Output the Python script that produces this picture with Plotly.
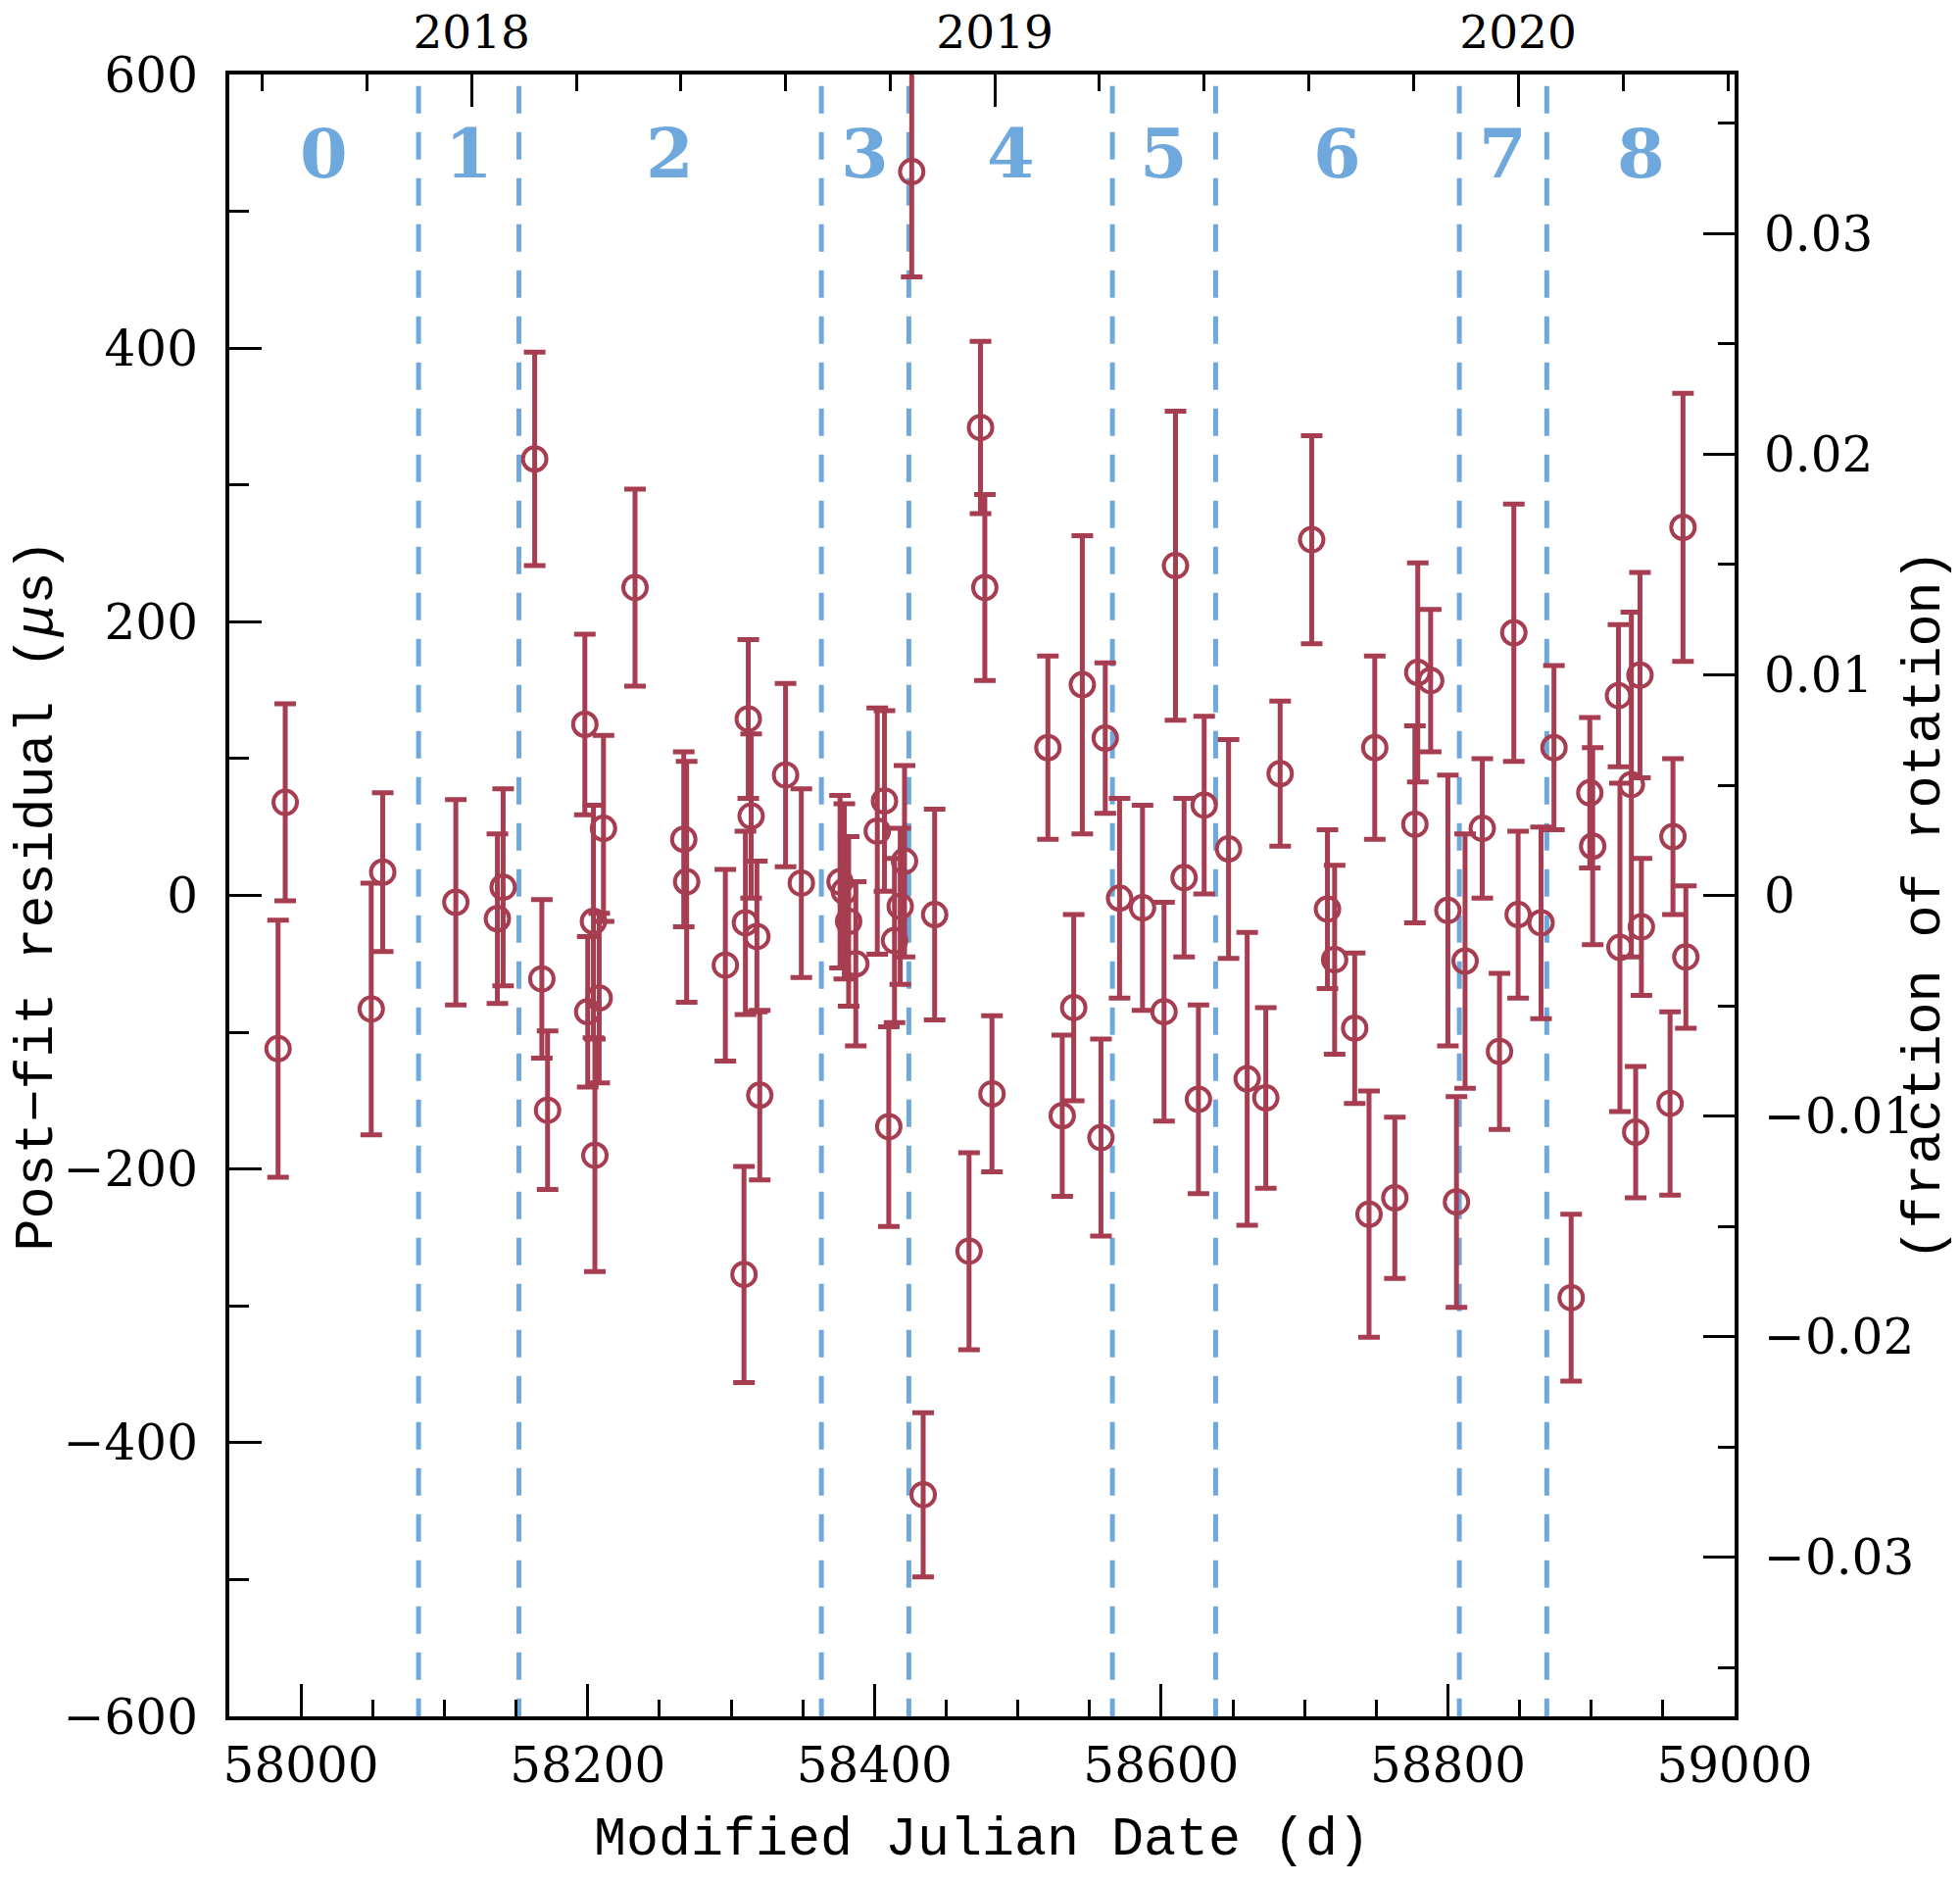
import datetime
import plotly.graph_objects as go

# ---------------- data ----------------
mjd = [57984, 57989, 58049, 58057, 58108, 58137, 58141, 58163, 58168, 58172,
       58198, 58200, 58204, 58205, 58208, 58211, 58233, 58267, 58269, 58296,
       58309, 58310, 58312, 58314, 58318, 58320, 58338, 58349, 58376, 58379,
       58382, 58387, 58402, 58407, 58410, 58414, 58418, 58421, 58426, 58434,
       58442, 58466, 58474, 58477, 58482, 58521, 58531, 58539, 58545, 58558,
       58561, 58571, 58587, 58602, 58610, 58616, 58626, 58630, 58647, 58660,
       58673, 58683, 58705, 58716, 58721, 58735, 58745, 58749, 58763, 58777,
       58779, 58788, 58800, 58806, 58812, 58824, 58836, 58846, 58849, 58865,
       58874, 58886, 58899, 58901, 58919, 58920, 58928, 58931, 58934, 58935,
       58955, 58957, 58964, 58966]

resid_us = [-112, 68, -83, 17, -5, -17, 6, 319, -61, -157,
            125, -85, -19, -190, -75, 49, 225, 41, 10, -51,
            -277, -20, 129, 58, -30, -146, 88, 9, 10, 3,
            -19, -50, 47, 69, -169, -33, -8, 25, 529, -438,
            -14, -260, 342, 225, -145, 108, -161, -82, 154, -177,
            115, -2, -9, -85, 241, 13, -149, 66, 34, -134,
            -148, 89, 260, -10, -47, -97, -233, 108, -221, 52,
            163, 157, -11, -224, -48, 49, -114, 192, -14, -20,
            108, -294, 75, 36, 146, -38, 81, -173, 161, -23,
            -152, 43, 269, -45]

err_us = [94, 72, 92, 58, 75, 62, 72, 78, 58, 58,
          66, 55, 85, 85, 62, 68, 72, 64, 88, 70,
          79, 67, 58, 60, 55, 62, 67, 69, 63, 64,
          62, 60, 90, 66, 73, 60, 57, 70, 77, 60,
          77, 72, 63, 68, 57, 67, 59, 68, 109, 72,
          55, 73, 75, 80, 113, 58, 69, 65, 80, 107,
          66, 53, 76, 58, 69, 55, 90, 67, 59, 72,
          80, 52, 99, 77, 93, 51, 57, 94, 61, 70,
          60, 61, 55, 72, 52, 120, 126, 48, 75, 50,
          67, 57, 98, 52]

glitch_mjd = [58082, 58152, 58363, 58424, 58566, 58638, 58808, 58869]
segment_labels = ["0", "1", "2", "3", "4", "5", "6", "7", "8"]
year_labels = [2018, 2019, 2020]
period_us = 16120.0   # spin period, converts residual to fraction of rotation

# ---------------- style ----------------
X_RANGE = [57950, 59000]
Y_RANGE = [-600, 600]
RED = "#A63D51"
BLUE = "#6FA8DC"
TICK_FONT = dict(family="DejaVu Serif", size=50, color="black")
TITLE_FONT = dict(family="Liberation Mono", size=55, color="black")

MJD0 = datetime.date(1858, 11, 17)


def mjd_of(year, frac=0.0):
    d0 = datetime.date(year, 1, 1)
    n = (datetime.date(year + 1, 1, 1) - d0).days
    return (d0 - MJD0).days + frac * n


year_mjd = [mjd_of(y) for y in year_labels]
minor_year_mjd = []
for y in range(2017, 2021):
    for f in (0.2, 0.4, 0.6, 0.8):
        v = mjd_of(y, f)
        if X_RANGE[0] <= v <= X_RANGE[1]:
            minor_year_mjd.append(v)

edges = [X_RANGE[0]] + glitch_mjd + [X_RANGE[1]]
label_x = [(edges[i] + edges[i + 1]) / 2 for i in range(len(segment_labels))]

fig = go.Figure()
fig.add_trace(go.Scatter(
    x=mjd, y=resid_us, mode="markers",
    marker=dict(symbol="circle-open", size=24, color=RED, line=dict(width=4, color=RED)),
    error_y=dict(type="data", array=err_us, visible=True, color=RED, thickness=5, width=11),
    hoverinfo="skip", showlegend=False, cliponaxis=True,
))
# helper traces so the top and right axes are drawn
fig.add_trace(go.Scatter(x=[None], y=[None], xaxis="x2", yaxis="y", showlegend=False, hoverinfo="skip"))
fig.add_trace(go.Scatter(x=[None], y=[None], xaxis="x", yaxis="y2", showlegend=False, hoverinfo="skip"))

shapes = []
for g in glitch_mjd:
    shapes.append(dict(type="line", xref="x", yref="paper", x0=g, x1=g, y0=0.993, y1=0,
                       line=dict(color=BLUE, width=5, dash="28px,19px"), layer="below"))

annotations = []
for lx, lab in zip(label_x, segment_labels):
    annotations.append(dict(x=lx, y=1, xref="x", yref="paper", text=lab, showarrow=False,
                            xanchor="center", yanchor="middle", yshift=-80,
                            font=dict(family="DejaVu Serif", size=70, color=BLUE, weight="bold")))
annotations.append(dict(x=0.5, y=0, xref="paper", yref="paper", text="Modified Julian Date (d)",
                        showarrow=False, xanchor="center", yanchor="middle", yshift=-126,
                        font=TITLE_FONT))
annotations.append(dict(x=0, y=0.5, xref="paper", yref="paper", text="Post\u2212fit residual (<i>\u03bc</i>s)",
                        showarrow=False, xanchor="center", yanchor="middle", xshift=-196,
                        textangle=-90, font=TITLE_FONT))
annotations.append(dict(x=1, y=0.5, xref="paper", yref="paper", text="(fraction of rotation)",
                        showarrow=False, xanchor="center", yanchor="middle", xshift=194, yshift=-10,
                        textangle=-90, font=TITLE_FONT))

common = dict(showline=True, linewidth=4, linecolor="black", mirror=False, ticks="inside",
              tickwidth=3, tickcolor="black", showgrid=False, zeroline=False,
              automargin=False)

fig.update_layout(
    width=2000, height=1920,
    margin=dict(l=234, r=230, t=76, b=169, autoexpand=False),
    paper_bgcolor="white", plot_bgcolor="white",
    shapes=shapes, annotations=annotations,
    xaxis=dict(range=X_RANGE, tickmode="linear", tick0=58000, dtick=200, tickformat="d",
               ticklen=33, ticklabelstandoff=3, tickfont=TICK_FONT,
               minor=dict(ticks="inside", ticklen=17, tickwidth=3, tickcolor="black",
                          tick0=58000, dtick=50),
               anchor="y", **common),
    xaxis2=dict(range=X_RANGE, overlaying="x", side="top", anchor="y",
                tickmode="array", tickvals=year_mjd, ticktext=[str(y) for y in year_labels],
                ticklen=33, ticklabelstandoff=4,
                tickfont=dict(family="DejaVu Serif", size=47, color="black"),
                minor=dict(ticks="inside", ticklen=17, tickwidth=3, tickcolor="black",
                           tickmode="array", tickvals=minor_year_mjd),
                **common),
    yaxis=dict(range=Y_RANGE, tickmode="linear", tick0=0, dtick=200, ticklen=33,
               ticklabelstandoff=18, tickfont=TICK_FONT,
               minor=dict(ticks="inside", ticklen=20, tickwidth=3, tickcolor="black",
                          tick0=0, dtick=100),
               anchor="x", **common),
    yaxis2=dict(range=[Y_RANGE[0] / period_us, Y_RANGE[1] / period_us], overlaying="y",
                side="right", anchor="x", tickmode="linear", tick0=0, dtick=0.01, ticklen=32,
                ticklabelstandoff=16, tickfont=TICK_FONT,
                minor=dict(ticks="inside", ticklen=17, tickwidth=3, tickcolor="black",
                           tick0=0, dtick=0.005),
                **common),
)

fig.write_html(
    "out.html",
    config={"displayModeBar": False},
    post_script="document.body.style.margin='0';document.documentElement.style.overflow='hidden';",
)
